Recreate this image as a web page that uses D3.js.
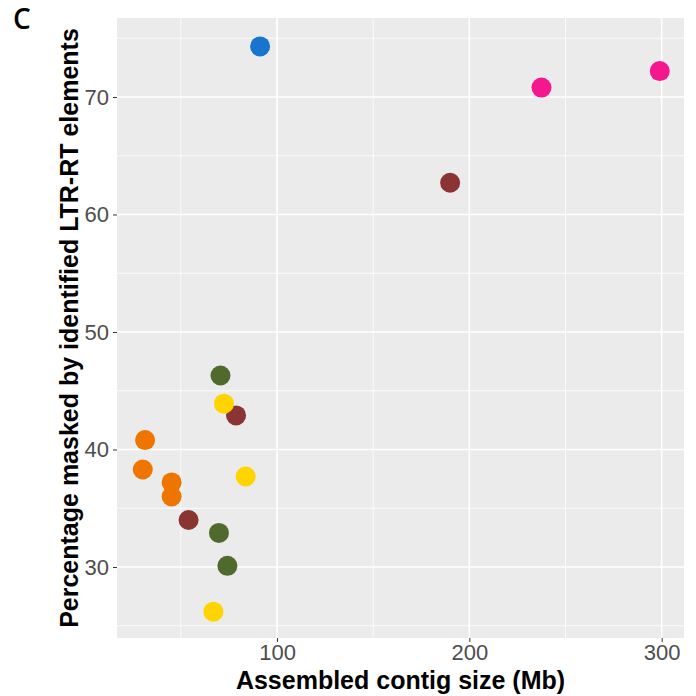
<!DOCTYPE html>
<html>
<head>
<meta charset="utf-8">
<script src="https://cdn.jsdelivr.net/npm/d3@7"></script>
<style>
  body { margin: 0; background: #fff; }
  svg text { font-family: "Liberation Sans", Arial, sans-serif; }
</style>
</head>
<body>
<div id="app"></div>
<script>
"use strict";

// contig size (Mb), percentage masked, and colour group for each genome
const groupNames = ["brown", "green", "orange", "yellow", "blue", "pink"];
const groupColors = ["#8B3434", "#50692D", "#EE7600", "#FFD400", "#1874CD", "#F51790"];
const sizeMb = [190, 78.7, 54.0, 70.6, 69.8, 74.2, 31.4, 30.2, 45.2, 45.2, 72.4, 83.7, 66.9, 91.2, 237.5, 299];
const pctMasked = [62.7, 42.9, 34.0, 46.3, 32.9, 30.1, 40.8, 38.3, 37.2, 36.0, 43.9, 37.7, 26.2, 74.3, 70.8, 72.2];
const pointGroup = ["brown", "brown", "brown", "green", "green", "green", "orange", "orange", "orange", "orange",
  "yellow", "yellow", "yellow", "blue", "pink", "pink"];

const xTicks = [100, 200, 300];
const xMinor = [50, 150, 250];
const yTicks = [30, 40, 50, 60, 70];
const yMinor = [25, 35, 45, 55, 65, 75];

const width = 696, height = 696;
const margin = { top: 18, right: 12, bottom: 58, left: 117 };

const svg = d3.select("#app").append("svg")
  .attr("width", width)
  .attr("height", height);

const x = d3.scaleLinear().domain([16.8, 311.6]).range([margin.left, width - margin.right]);
const y = d3.scaleLinear().domain([23.96, 76.72]).range([height - margin.bottom, margin.top]);
const color = d3.scaleOrdinal().domain(groupNames).range(groupColors);

// panel
svg.append("rect")
  .attr("x", margin.left)
  .attr("y", margin.top)
  .attr("width", width - margin.left - margin.right)
  .attr("height", height - margin.top - margin.bottom)
  .attr("fill", "#EBEBEB");

const grid = svg.append("g");
grid.selectAll(".xminor").data(xMinor).join("line")
  .attr("x1", d => x(d)).attr("x2", d => x(d))
  .attr("y1", margin.top).attr("y2", height - margin.bottom)
  .attr("stroke", "#fff").attr("stroke-width", 0.8);
grid.selectAll(".yminor").data(yMinor).join("line")
  .attr("y1", d => y(d)).attr("y2", d => y(d))
  .attr("x1", margin.left).attr("x2", width - margin.right)
  .attr("stroke", "#fff").attr("stroke-width", 0.8);
grid.selectAll(".xmajor").data(xTicks).join("line")
  .attr("x1", d => x(d)).attr("x2", d => x(d))
  .attr("y1", margin.top).attr("y2", height - margin.bottom)
  .attr("stroke", "#fff").attr("stroke-width", 1.6);
grid.selectAll(".ymajor").data(yTicks).join("line")
  .attr("y1", d => y(d)).attr("y2", d => y(d))
  .attr("x1", margin.left).attr("x2", width - margin.right)
  .attr("stroke", "#fff").attr("stroke-width", 1.6);

// axes
const xAxis = svg.append("g")
  .attr("transform", `translate(0,${height - margin.bottom})`)
  .call(d3.axisBottom(x).tickValues(xTicks).tickSize(4).tickPadding(2));
const yAxis = svg.append("g")
  .attr("transform", `translate(${margin.left},0)`)
  .call(d3.axisLeft(y).tickValues(yTicks).tickSize(4).tickPadding(4));

[xAxis, yAxis].forEach(ax => {
  ax.select(".domain").remove();
  ax.selectAll(".tick line").attr("stroke", "#333").attr("stroke-width", 1);
  ax.selectAll(".tick text")
    .attr("fill", "#4D4D4D")
    .style("font-size", "22px");
});

// points
const pts = d3.range(sizeMb.length);
svg.append("g").selectAll("circle").data(pts).join("circle")
  .attr("cx", i => x(sizeMb[i]))
  .attr("cy", i => y(pctMasked[i]))
  .attr("r", 10)
  .attr("fill", i => color(pointGroup[i]));

// axis titles
svg.append("text")
  .attr("x", (margin.left + width - margin.right) / 2)
  .attr("y", 689)
  .attr("text-anchor", "middle")
  .style("font-size", "25px")
  .style("font-weight", "bold")
  .text("Assembled contig size (Mb)");

svg.append("text")
  .attr("transform", `translate(78,${(margin.top + height - margin.bottom) / 2}) rotate(-90)`)
  .attr("text-anchor", "middle")
  .style("font-size", "25px")
  .style("font-weight", "bold")
  .text("Percentage masked by identified LTR-RT elements");

// panel letter
svg.append("text")
  .attr("x", 13)
  .attr("y", 29)
  .style("font-family", "'Open Sans', sans-serif")
  .style("font-size", "28px")
  .style("font-weight", "600")
  .text("C");
</script>
</body>
</html>
